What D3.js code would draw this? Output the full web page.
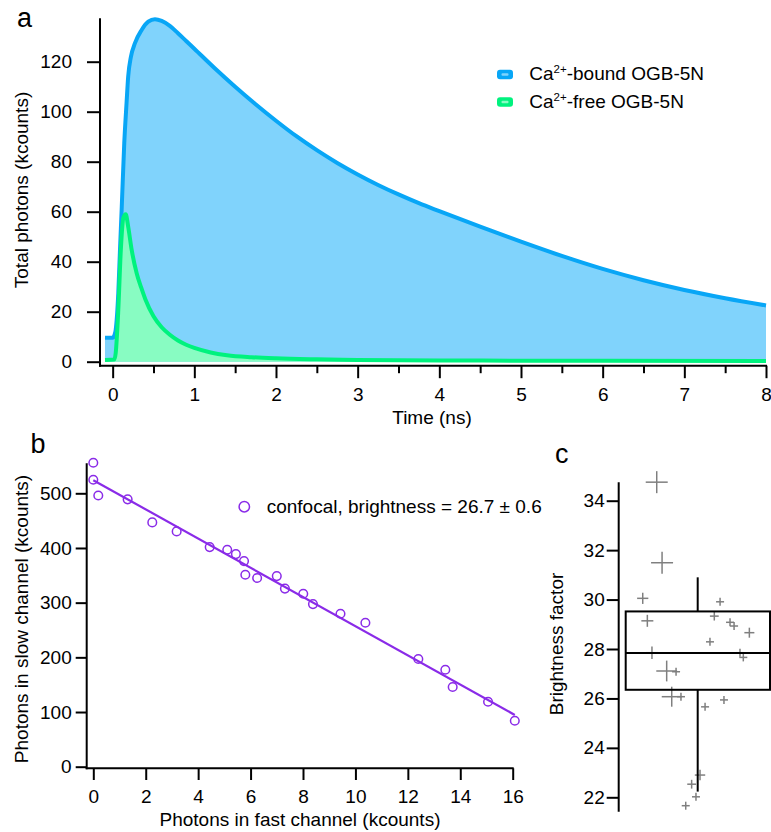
<!DOCTYPE html>
<html>
<head>
<meta charset="utf-8">
<script src="https://cdn.jsdelivr.net/npm/d3@7"></script>
<style>
  html, body { margin: 0; padding: 0; background: #fff; }
  svg { display: block; }
  text { font-family: "Liberation Sans", Arial, Helvetica, sans-serif; fill: #000; }
</style>
</head>
<body>
<svg id="chart" width="771" height="832"></svg>
<script>
// ---------- Panel a data: fluorescence decays ----------
const tBound = [-0.094, 0.0, 0.02, 0.037, 0.069, 0.09, 0.11, 0.142, 0.17, 0.19, 0.224, 0.273, 0.355, 0.436, 0.518, 0.6, 0.7, 0.8, 0.9, 1.0, 1.25, 1.5, 1.75, 2.0, 2.25, 2.5, 2.75, 3.0, 3.25, 3.5, 3.75, 4.0, 4.5, 5.0, 5.5, 6.0, 6.5, 7.0, 7.5, 8.0];
const vBound = [9.6, 9.6, 10.5, 12.7, 27.4, 45, 60.7, 87.4, 103.4, 114, 122, 127.4, 132.7, 136, 137, 136.3, 134.3, 131.4, 128.3, 125.2, 117.4, 110.0, 103.0, 96.4, 90.2, 84.6, 79.5, 74.9, 70.7, 66.9, 63.4, 60.2, 54.0, 48.0, 42.3, 37.1, 32.6, 28.7, 25.4, 22.5];
const tFree = [-0.094, 0.02, 0.037, 0.069, 0.10, 0.13, 0.16, 0.19, 0.233, 0.294, 0.35, 0.4, 0.5, 0.6, 0.7, 0.8, 0.9, 1.0, 1.2, 1.4, 1.7, 2.0, 2.5, 3.0, 4.0, 5.0, 6.0, 8.0];
const vFree = [0.7, 0.9, 3.4, 20.7, 44.7, 57.4, 59, 54, 44.7, 35.4, 29.6, 25.0, 18.2, 13.8, 10.8, 8.5, 6.8, 5.5, 3.7, 2.6, 1.8, 1.35, 0.95, 0.7, 0.5, 0.4, 0.35, 0.3];
const seriesNames = ["bound", "free"];
const timeTicks = [0, 1, 2, 3, 4, 5, 6, 7, 8];
const timeMinorTicks = [0.5, 1.5, 2.5, 3.5, 4.5, 5.5, 6.5, 7.5];
const photonTicks = [0, 20, 40, 60, 80, 100, 120];

// ---------- Panel b data ----------
const fastX = [0.0, 0.0, 0.19, 1.31, 2.25, 3.18, 4.44, 5.11, 5.44, 5.75, 5.80, 6.25, 7.0, 7.31, 8.01, 8.38, 9.43, 10.38, 12.4, 13.43, 13.71, 15.06, 16.08];
const slowY = [555.8, 524.7, 496, 488.9, 446.8, 430.3, 401.6, 396.7, 388.8, 376, 351, 345, 348.6, 325.7, 316.2, 297.4, 279.7, 263.3, 196.9, 177.3, 145.7, 118.8, 84.1];
const fitX = [0, 16.08];
const fitY = [524, 94.7];
const fastTicks = [0, 2, 4, 6, 8, 10, 12, 14, 16];
const slowTicks = [0, 100, 200, 300, 400, 500];
const legendB = "confocal, brightness = 26.7 \u00b1 0.6";

// ---------- Panel c data ----------
const brightness = [34.75, 31.49, 30.05, 29.14, 27.85, 27.11, 27.08, 26.07, 26.07, 25.66, 25.94, 29.91, 29.33, 28.29, 29.08, 28.93, 28.66, 27.85, 27.66, 22.9, 22.53, 22.02, 21.66];
const jitter = [0.215, 0.252, 0.118, 0.150, 0.182, 0.284, 0.349, 0.319, 0.383, 0.550, 0.681, 0.654, 0.614, 0.584, 0.723, 0.751, 0.857, 0.792, 0.815, 0.515, 0.457, 0.487, 0.416];
const weight = [2.75, 2.75, 1.4, 1.5, 1.55, 2.6, 1, 2.5, 1, 1, 1, 1, 1.1, 1, 1, 1, 1.25, 1, 1, 1.3, 1.1, 1, 1];
const whiskerLow = 22.23, q1 = 26.35, median = 27.84, q3 = 29.52, whiskerHigh = 30.9;
const brightTicks = [22, 24, 26, 28, 30, 32, 34];

// ---------- Styles ----------
const blueLine = "#08a6f6", blueFill = "#80d3fc";
const greenLine = "#00f27e", greenFill = "#88fcc2";
const purple = "#8a2be8";
const crossGray = "#7f7f7f";
const FS = 19;

const svg = d3.select("#chart");

function styleAxis(g, tickW) {
  g.select(".domain").remove();
  g.selectAll(".tick line").attr("stroke", "#000").attr("stroke-width", tickW || 2);
  g.selectAll(".tick text").attr("font-size", FS).attr("font-family", '"Liberation Sans", Arial, sans-serif').attr("fill", "#000");
}

// =============== Panel a ===============
const xA = d3.scaleLinear().domain([-0.155, 8]).range([100, 766]);
const yA = d3.scaleLinear().domain([0, 120]).range([361.7, 61.7]);
const gA = svg.append("g");

const boundData = tBound.map((t, i) => ({ t, v: vBound[i] }));
const freeData = tFree.map((t, i) => ({ t, v: vFree[i] }));

const areaA = d3.area().x(d => xA(d.t)).y0(yA(0)).y1(d => yA(d.v)).curve(d3.curveMonotoneX);
const lineA = d3.line().x(d => xA(d.t)).y(d => yA(d.v)).curve(d3.curveMonotoneX);

gA.append("path").datum(boundData).attr("d", areaA).attr("fill", blueFill);
gA.append("path").datum(boundData).attr("d", lineA).attr("fill", "none")
  .attr("stroke", blueLine).attr("stroke-width", 4).attr("stroke-linejoin", "round");
gA.append("path").datum(freeData).attr("d", areaA).attr("fill", greenFill);
gA.append("path").datum(freeData).attr("d", lineA).attr("fill", "none")
  .attr("stroke", greenLine).attr("stroke-width", 4).attr("stroke-linejoin", "round");

// axes a
const axYA = gA.append("g").attr("transform", `translate(${xA.range()[0]},0)`)
  .call(d3.axisLeft(yA).tickValues(photonTicks).tickSize(13).tickPadding(15));
styleAxis(axYA);
gA.append("line").attr("x1", 100).attr("x2", 100).attr("y1", yA(137.4)).attr("y2", 366.7)
  .attr("stroke", "#000").attr("stroke-width", 2);

const axXA = gA.append("g").attr("transform", "translate(0,365.7)")
  .call(d3.axisBottom(xA).tickValues(timeTicks).tickSize(12.5).tickPadding(9.5));
styleAxis(axXA);
const axXAm = gA.append("g").attr("transform", "translate(0,365.7)")
  .call(d3.axisBottom(xA).tickValues(timeMinorTicks).tickSize(7.5).tickFormat(""));
styleAxis(axXAm);
gA.append("line").attr("x1", 99).attr("x2", xA(8) + 1).attr("y1", 365.7).attr("y2", 365.7)
  .attr("stroke", "#000").attr("stroke-width", 2);

gA.append("text").attr("transform", "translate(28,190) rotate(-90)").attr("text-anchor", "middle")
  .attr("font-size", FS).text("Total photons (kcounts)");
gA.append("text").attr("x", 432).attr("y", 423.5).attr("text-anchor", "middle")
  .attr("font-size", FS).text("Time (ns)");
gA.append("text").attr("x", 17).attr("y", 27).attr("font-size", 27).text("a");

// legend a
const legA = gA.append("g");
const legItems = [
  { name: seriesNames[0], line: blueLine, fill: blueFill, y: 74.5, label: "-bound OGB-5N" },
  { name: seriesNames[1], line: greenLine, fill: greenFill, y: 102, label: "-free OGB-5N" }
];
legItems.forEach(it => {
  legA.append("rect").attr("x", 497).attr("y", it.y - 4.7).attr("width", 16).attr("height", 9.4)
    .attr("rx", 3).attr("fill", it.line);
  legA.append("rect").attr("x", 501.5).attr("y", it.y - 1.2).attr("width", 7).attr("height", 2.4)
    .attr("rx", 1).attr("fill", it.fill);
  const tx = legA.append("text").attr("x", 529.3).attr("y", it.y + 5.8).attr("font-size", FS);
  tx.append("tspan").text("Ca");
  tx.append("tspan").attr("font-size", 11.5).attr("dy", -7).text("2+");
  tx.append("tspan").attr("dy", 7).text(it.label);
});

// =============== Panel b ===============
const xB = d3.scaleLinear().domain([0, 16]).range([93.3, 512.7]);
const yB = d3.scaleLinear().domain([0, 500]).range([766.7, 493.3]);
const gB = svg.append("g");

const axYB = gB.append("g").attr("transform", "translate(86.7,0)")
  .call(d3.axisLeft(yB).tickValues(slowTicks).tickSize(11).tickPadding(4));
styleAxis(axYB);
gB.append("line").attr("x1", 86.7).attr("x2", 86.7).attr("y1", yB(555)).attr("y2", 769.3)
  .attr("stroke", "#000").attr("stroke-width", 2);

const axXB = gB.append("g").attr("transform", "translate(0,768.3)")
  .call(d3.axisBottom(xB).tickValues(fastTicks).tickSize(11.7).tickPadding(9.5));
styleAxis(axXB);
gB.append("line").attr("x1", 85.7).attr("x2", xB(16) + 1).attr("y1", 768.3).attr("y2", 768.3)
  .attr("stroke", "#000").attr("stroke-width", 2);

gB.append("line")
  .attr("x1", xB(fitX[0])).attr("y1", yB(fitY[0]))
  .attr("x2", xB(fitX[1])).attr("y2", yB(fitY[1]))
  .attr("stroke", purple).attr("stroke-width", 2.2);

gB.selectAll("circle.pt").data(fastX.map((x, i) => ({ x, y: slowY[i] }))).enter()
  .append("circle").attr("class", "pt")
  .attr("cx", d => xB(d.x)).attr("cy", d => yB(d.y)).attr("r", 4.3)
  .attr("fill", "none").attr("stroke", purple).attr("stroke-width", 1.5);

gB.append("circle").attr("cx", 244.3).attr("cy", 506.7).attr("r", 5.2)
  .attr("fill", "none").attr("stroke", purple).attr("stroke-width", 1.5);
gB.append("text").attr("x", 266.7).attr("y", 513).attr("font-size", FS).text(legendB);

gB.append("text").attr("transform", "translate(28,619) rotate(-90)").attr("text-anchor", "middle")
  .attr("font-size", FS).text("Photons in slow channel (kcounts)");
gB.append("text").attr("x", 300).attr("y", 826).attr("text-anchor", "middle")
  .attr("font-size", FS).text("Photons in fast channel (kcounts)");
gB.append("text").attr("x", 30.5).attr("y", 452.5).attr("font-size", 27).text("b");

// =============== Panel c ===============
const yC = d3.scaleLinear().domain([22, 34]).range([797.3, 500.7]);
const xC = d3.scaleLinear().domain([0, 1]).range([625.7, 770]);
const sC = d3.scaleLinear().domain([0, 1]).range([0, 4]);
const gC = svg.append("g");

const axYC = gC.append("g").attr("transform", "translate(618.7,0)")
  .call(d3.axisLeft(yC).tickValues(brightTicks).tickSize(12).tickPadding(2));
styleAxis(axYC);
gC.append("line").attr("x1", 618.7).attr("x2", 618.7).attr("y1", yC(34.75)).attr("y2", yC(21.42))
  .attr("stroke", "#000").attr("stroke-width", 2);

const crosses = brightness.map((v, i) => ({ v, j: jitter[i], w: weight[i] }));
const cg = gC.selectAll("g.cross").data(crosses).enter().append("g").attr("class", "cross")
  .attr("transform", d => `translate(${xC(d.j)},${yC(d.v)})`);
cg.append("line").attr("x1", d => -sC(d.w)).attr("x2", d => sC(d.w)).attr("y1", 0).attr("y2", 0)
  .attr("stroke", crossGray).attr("stroke-width", 1.5);
cg.append("line").attr("y1", d => -sC(d.w)).attr("y2", d => sC(d.w)).attr("x1", 0).attr("x2", 0)
  .attr("stroke", crossGray).attr("stroke-width", 1.5);

const boxX = xC(0), boxW = xC(1) - xC(0), midX = 697.7;
gC.append("rect").attr("x", boxX).attr("y", yC(q3)).attr("width", boxW).attr("height", yC(q1) - yC(q3))
  .attr("fill", "none").attr("stroke", "#000").attr("stroke-width", 2);
gC.append("line").attr("x1", boxX).attr("x2", boxX + boxW).attr("y1", yC(median)).attr("y2", yC(median))
  .attr("stroke", "#000").attr("stroke-width", 2);
gC.append("line").attr("x1", midX).attr("x2", midX).attr("y1", yC(whiskerHigh)).attr("y2", yC(q3))
  .attr("stroke", "#000").attr("stroke-width", 2);
gC.append("line").attr("x1", midX).attr("x2", midX).attr("y1", yC(q1)).attr("y2", yC(whiskerLow))
  .attr("stroke", "#000").attr("stroke-width", 2);

gC.append("text").attr("transform", "translate(563,644) rotate(-90)").attr("text-anchor", "middle")
  .attr("font-size", FS).text("Brightness factor");
gC.append("text").attr("x", 555).attr("y", 463).attr("font-size", 27).text("c");
</script>
</body>
</html>
